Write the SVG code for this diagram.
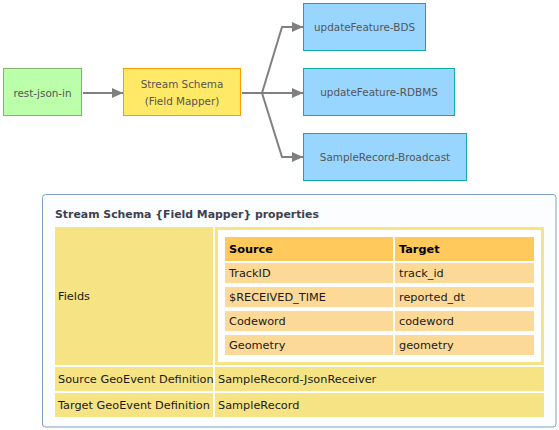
<svg xmlns="http://www.w3.org/2000/svg" width="559" height="430" viewBox="0 0 559 430">
<defs>
<marker id="ah" markerWidth="11" markerHeight="10" refX="11" refY="5" orient="auto" markerUnits="userSpaceOnUse">
<path d="M0,0 L11,5 L0,10 z" fill="#808080"/>
</marker>
</defs>
<style>
.node text{font-family:"DejaVu Sans",Verdana,sans-serif;font-size:10.4px;fill:#555555;text-anchor:middle}
.conn path{fill:none;stroke:#808080;stroke-width:2}
.cell{fill:#f6e384}
.hdr{fill:#ffc95b}
.row{fill:#fcd996}
.t{font-family:"DejaVu Sans",Verdana,sans-serif;font-size:11.3px;fill:#1a1a1a}
.tb{font-family:"DejaVu Sans",Verdana,sans-serif;font-size:11.3px;font-weight:bold;fill:#000}
.title{font-family:"DejaVu Sans",Verdana,sans-serif;font-size:10.9px;font-weight:bold;fill:#3b4151}
</style>
<rect width="559" height="430" fill="#ffffff"/>
<g class="conn" id="connectors">
<path d="M83,93 H123" marker-end="url(#ah)"/>
<path d="M242,93 H262 L282,27 H303" marker-end="url(#ah)"/>
<path d="M262,93 H303" marker-end="url(#ah)"/>
<path d="M262,93 L282,157 H303" marker-end="url(#ah)"/>
</g>
<g class="node" id="rest-json-in">
<rect x="3.5" y="68.5" width="78" height="47" fill="#bbffaa" stroke="#82b366"/>
<text x="42.5" y="96.5">rest-json-in</text>
</g>
<g class="node" id="stream-schema">
<rect x="123.5" y="68.5" width="117" height="47" fill="#ffe966" stroke="#ff9900"/>
<text x="182" y="87.5">Stream Schema</text>
<text x="182" y="105">(Field Mapper)</text>
</g>
<g class="node" id="updateFeature-BDS">
<rect x="303.5" y="3.5" width="122" height="47" fill="#99d6ff" stroke="#10aaaa"/>
<text x="364.5" y="31">updateFeature-BDS</text>
</g>
<g class="node" id="updateFeature-RDBMS">
<rect x="303.5" y="68.5" width="151" height="47" fill="#99d6ff" stroke="#10aaaa"/>
<text x="379" y="96">updateFeature-RDBMS</text>
</g>
<g class="node" id="SampleRecord-Broadcast">
<rect x="303.5" y="133.5" width="163" height="47" fill="#99d6ff" stroke="#10aaaa"/>
<text x="385" y="161">SampleRecord-Broadcast</text>
</g>
<g id="properties">
<rect x="42.5" y="194.5" width="513.5" height="232.5" rx="3" fill="#fcfdff" stroke="#7d9ec6"/>
<text class="title" x="55" y="218">Stream Schema {Field Mapper} properties</text>
<rect class="cell" x="55" y="227" width="158" height="138"/>
<text class="t" x="58" y="300">Fields</text>
<rect class="cell" x="215" y="227" width="329" height="138"/>
<rect x="218" y="230" width="323" height="132" fill="#ffffff"/>
<rect class="hdr" x="225" y="237" width="168" height="24"/>
<rect class="hdr" x="395" y="237" width="139" height="24"/>
<text class="tb" x="229" y="253">Source</text>
<text class="tb" x="399" y="253">Target</text>
<rect class="row" x="225" y="263" width="168" height="20"/>
<rect class="row" x="395" y="263" width="139" height="20"/>
<text class="t" x="229" y="277">TrackID</text>
<text class="t" x="399" y="277">track_id</text>
<rect class="row" x="225" y="287" width="168" height="20"/>
<rect class="row" x="395" y="287" width="139" height="20"/>
<text class="t" x="229" y="301">$RECEIVED_TIME</text>
<text class="t" x="399" y="301">reported_dt</text>
<rect class="row" x="225" y="311" width="168" height="20"/>
<rect class="row" x="395" y="311" width="139" height="20"/>
<text class="t" x="229" y="325">Codeword</text>
<text class="t" x="399" y="325">codeword</text>
<rect class="row" x="225" y="335" width="168" height="20"/>
<rect class="row" x="395" y="335" width="139" height="20"/>
<text class="t" x="229" y="349">Geometry</text>
<text class="t" x="399" y="349">geometry</text>
<rect class="cell" x="55" y="367" width="158" height="24"/>
<rect class="cell" x="215" y="367" width="329" height="24"/>
<text class="t" x="58" y="383">Source GeoEvent Definition</text>
<text class="t" x="218" y="383">SampleRecord-JsonReceiver</text>
<rect class="cell" x="55" y="393" width="158" height="24"/>
<rect class="cell" x="215" y="393" width="329" height="24"/>
<text class="t" x="58" y="409">Target GeoEvent Definition</text>
<text class="t" x="218" y="409">SampleRecord</text>
</g>
</svg>
